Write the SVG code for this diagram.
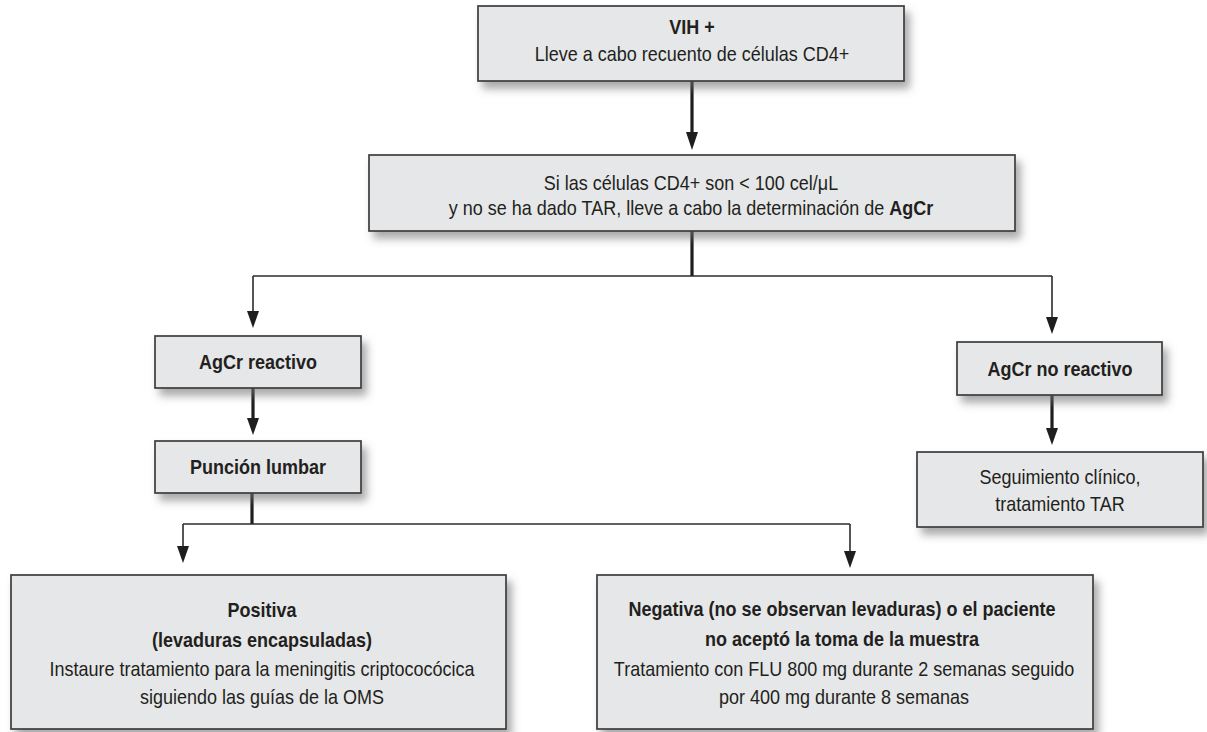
<svg xmlns="http://www.w3.org/2000/svg" width="1207" height="732" viewBox="0 0 1207 732">
<defs>
<style>
.box{fill:#e6e7e8;stroke:#3c3c3c;stroke-width:1.7;filter:url(#sh)}
.t{font-family:"Liberation Sans",Arial,sans-serif;font-size:20px;fill:#231f20;text-anchor:middle}
.b{font-weight:bold}
.thin{fill:none;stroke:#2b2b2b;stroke-width:1.6}
.thick{fill:none;stroke:#1e1e1e;stroke-width:3.2}
.ah{fill:#1e1e1e}
</style>
<filter id="sh" x="-10%" y="-20%" width="130%" height="160%">
<feDropShadow dx="5" dy="7" stdDeviation="4" flood-color="#6f6f6f" flood-opacity="0.6"/>
</filter>
</defs>
<rect width="1207" height="732" fill="#ffffff"/>
<g id="connectors">
<path class="thick" d="M692,81 V134"/>
<path class="ah" d="M686,132 L698,132 L692,150 Z"/>
<path class="thick" d="M692,231 V276"/>
<path class="thin" d="M253,276 H1052"/>
<path class="thin" d="M253,276 V314"/>
<path class="ah" d="M247,311 L259,311 L253,328 Z"/>
<path class="thin" d="M1052,276 V320"/>
<path class="ah" d="M1046,317 L1058,317 L1052,334 Z"/>
<path class="thick" d="M253,388 V420"/>
<path class="ah" d="M247,418 L259,418 L253,435 Z"/>
<path class="thick" d="M1052,395 V430"/>
<path class="ah" d="M1046,428 L1058,428 L1052,445 Z"/>
<path class="thick" d="M252,493 V524"/>
<path class="thin" d="M183,524 H850"/>
<path class="thin" d="M183,524 V549"/>
<path class="ah" d="M177,546 L189,546 L183,563 Z"/>
<path class="thin" d="M850,524 V554"/>
<path class="ah" d="M844,551 L856,551 L850,568 Z"/>
</g>
<g id="n1">
<rect class="box" x="478" y="6" width="426" height="75"/>
<text class="t b" transform="matrix(0.9,0,0,1,69.2,0)" x="692" y="34">VIH +</text>
<text class="t" transform="matrix(0.9,0,0,1,69.2,0)" x="692" y="61">Lleve a cabo recuento de células CD4+</text>
</g>
<g id="n2">
<rect class="box" x="369" y="155" width="646" height="76"/>
<text class="t" transform="matrix(0.9,0,0,1,69.1,0)" x="691" y="190">Si las células CD4+ son &lt; 100 cel/μL</text>
<text class="t" transform="matrix(0.9,0,0,1,69.1,0)" x="691" y="215">y no se ha dado TAR, lleve a cabo la determinación de <tspan class="b">AgCr</tspan></text>
</g>
<g id="n3">
<rect class="box" x="155" y="336" width="206" height="52"/>
<text class="t b" transform="matrix(0.9,0,0,1,25.8,0)" x="258" y="369">AgCr reactivo</text>
</g>
<g id="n4">
<rect class="box" x="155" y="441" width="206" height="52"/>
<text class="t b" transform="matrix(0.9,0,0,1,25.8,0)" x="258" y="474">Punción lumbar</text>
</g>
<g id="n5">
<rect class="box" x="957" y="342" width="205" height="53"/>
<text class="t b" transform="matrix(0.9,0,0,1,106,0)" x="1060" y="376">AgCr no reactivo</text>
</g>
<g id="n6">
<rect class="box" x="917" y="452" width="286" height="75"/>
<text class="t" transform="matrix(0.9,0,0,1,106,0)" x="1060" y="484">Seguimiento clínico,</text>
<text class="t" transform="matrix(0.9,0,0,1,106,0)" x="1060" y="511">tratamiento TAR</text>
</g>
<g id="n7">
<rect class="box" x="11" y="575" width="495" height="154"/>
<text class="t b" transform="matrix(0.9,0,0,1,26.2,0)" x="262" y="617">Positiva</text>
<text class="t b" transform="matrix(0.9,0,0,1,26.2,0)" x="262" y="647">(levaduras encapsuladas)</text>
<text class="t" transform="matrix(0.9,0,0,1,26.2,0)" x="262" y="676">Instaure tratamiento para la meningitis criptococócica</text>
<text class="t" transform="matrix(0.9,0,0,1,26.2,0)" x="262" y="704">siguiendo las guías de la OMS</text>
</g>
<g id="n8">
<rect class="box" x="597" y="575" width="496" height="154"/>
<text class="t b" transform="matrix(0.9,0,0,1,84.2,0)" x="842" y="616">Negativa (no se observan levaduras) o el paciente</text>
<text class="t b" transform="matrix(0.9,0,0,1,84.2,0)" x="842" y="646">no aceptó la toma de la muestra</text>
<text class="t" transform="matrix(0.9,0,0,1,84.4,0)" x="844" y="676">Tratamiento con FLU 800 mg durante 2 semanas seguido</text>
<text class="t" transform="matrix(0.9,0,0,1,84.4,0)" x="844" y="704">por 400 mg durante 8 semanas</text>
</g>
</svg>
